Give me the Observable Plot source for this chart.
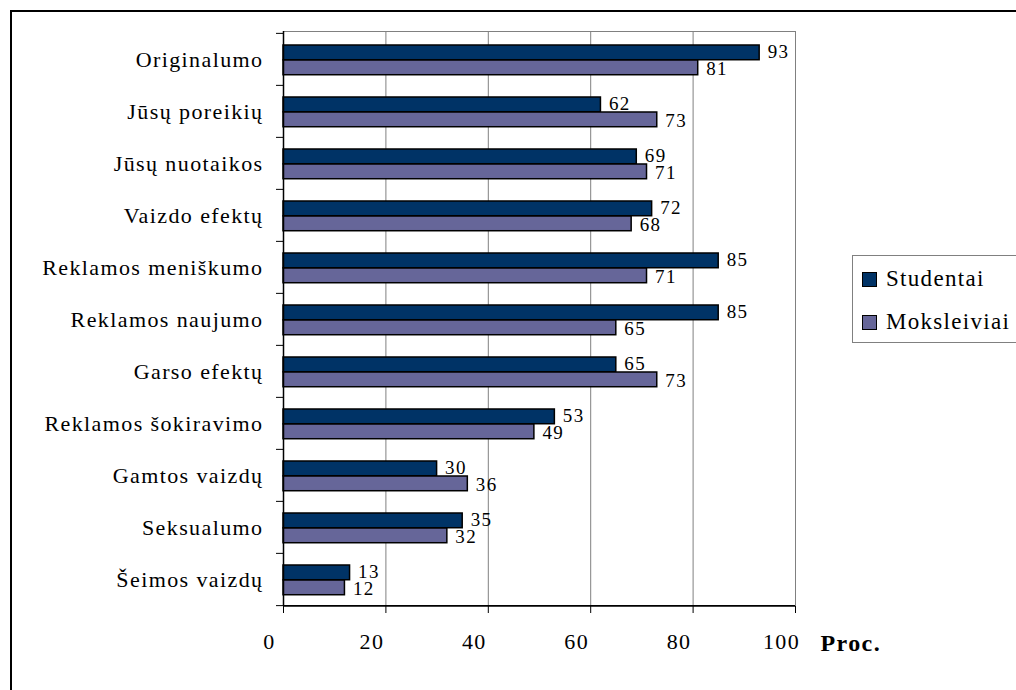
<!DOCTYPE html>
<html>
<head>
<meta charset="utf-8">
<script src="https://cdn.jsdelivr.net/npm/d3@7"></script>
<script src="https://cdn.jsdelivr.net/npm/@observablehq/plot@0.6"></script>
<style>
  html, body { margin: 0; padding: 0; background: #fff; overflow: hidden; }
  #page { position: relative; width: 1016px; height: 690px; overflow: hidden; font-family: "Liberation Serif", "Times New Roman", serif; }
  #border { position: absolute; left: 10px; top: 10px; width: 1040px; height: 720px; border: 2px solid #000; box-sizing: border-box; }
  #chart { position: absolute; left: 0; top: 0; }
  #legend { position: absolute; left: 852px; top: 255px; width: 190px; height: 88px; border: 1px solid #808080; box-sizing: border-box; background: #fff; }
  .item { position: absolute; left: 9px; display: flex; align-items: center; font-size: 23px; letter-spacing: 1.3px; color: #000; }
  .swatch { width: 13px; height: 13px; border: 1.5px solid #000; margin-right: 9px; }
</style>
</head>
<body>
<div id="page">
  <div id="border"></div>
  <div id="chart"></div>
  <div id="legend"></div>
</div>
<script>
// Survey answers: share of respondents (%) naming each advertising attribute
const categories = [
  "Originalumo",
  "Jūsų poreikių",
  "Jūsų nuotaikos",
  "Vaizdo efektų",
  "Reklamos meniškumo",
  "Reklamos naujumo",
  "Garso efektų",
  "Reklamos šokiravimo",
  "Gamtos vaizdų",
  "Seksualumo",
  "Šeimos vaizdų"
];
const studentai   = [93, 62, 69, 72, 85, 85, 65, 53, 30, 35, 13];
const moksleiviai = [81, 73, 71, 68, 71, 65, 73, 49, 36, 32, 12];
const seriesNames = ["Studentai", "Moksleiviai"];
const seriesColors = ["#003366", "#666699"];
const xTicks = [0, 20, 40, 60, 80, 100];
const xLabel = "Proc.";

const W = 1016, H = 690;
const margin = {top: 31, right: 221, bottom: 84, left: 283};
const band = (H - margin.top - margin.bottom) / categories.length;

const rowsS = categories.map((c, i) => ({cat: c, value: studentai[i]}));
const rowsM = categories.map((c, i) => ({cat: c, value: moksleiviai[i]}));

const font = {fontFamily: "'Liberation Serif', 'Times New Roman', serif", fontSize: "22px", letterSpacing: "1.4px", color: "#000", background: "transparent", overflow: "visible"};

const chart = Plot.plot({
  width: W,
  height: H,
  marginTop: margin.top,
  marginRight: margin.right,
  marginBottom: margin.bottom,
  marginLeft: margin.left,
  style: font,
  x: {domain: [0, 100]},
  y: {domain: categories, padding: 0},
  marks: [
    Plot.gridX({ticks: xTicks.slice(1), stroke: "#808080", strokeOpacity: 1, strokeWidth: 1}),
    Plot.frame({stroke: "#808080", strokeWidth: 1}),
    // bars: Studentai above, Moksleiviai below within each category band
    Plot.barX(rowsS, {x: "value", y: "cat", fill: seriesColors[0], stroke: "#000", strokeWidth: 1.5,
      insetTop: 12, insetBottom: band - 27}),
    Plot.barX(rowsM, {x: "value", y: "cat", fill: seriesColors[1], stroke: "#000", strokeWidth: 1.5,
      insetTop: 27, insetBottom: band - 42}),
    // axis lines
    Plot.ruleX([0], {stroke: "#000", strokeWidth: 1.5}),
    Plot.ruleY([categories[categories.length - 1]], {dy: band / 2, stroke: "#000", strokeWidth: 1.5}),
    // value labels
    Plot.text(rowsS, {x: "value", y: "cat", text: d => String(d.value), dx: 8, dy: 18.5 - band / 2,
      textAnchor: "start", fontSize: 19, letterSpacing: "2px", fill: "#000"}),
    Plot.text(rowsM, {x: "value", y: "cat", text: d => String(d.value), dx: 8, dy: 35.5 - band / 2,
      textAnchor: "start", fontSize: 19, letterSpacing: "2px", fill: "#000"}),
    // y axis: ticks on band boundaries, labels centred on bands
    Plot.axisY({tickSize: 7, fill: "none", stroke: "#000", strokeOpacity: 1, dy: -band / 2}),
    Plot.axisY([categories[categories.length - 1]], {tickSize: 7, fill: "none", stroke: "#000", strokeOpacity: 1, dy: band / 2}),
    Plot.axisY({tickSize: 0, tickPadding: 20, fontSize: 22, fill: "#000", label: null}),
    // x axis: tick marks below the axis, labels set a little to the left
    Plot.axisX({ticks: xTicks, tickSize: 7, fill: "none", stroke: "#000", strokeOpacity: 1, label: null}),
    Plot.axisX({ticks: xTicks, tickSize: 0, tickPadding: 27, dx: -14, fontSize: 22, fill: "#000", label: null, tickFormat: d => String(d)}),
    Plot.text([xLabel], {frameAnchor: "bottom-right", dx: 25, dy: 44, textAnchor: "start",
      fontWeight: "bold", fontSize: 24, letterSpacing: "0.5px", fill: "#000"})
  ]
});
document.getElementById("chart").appendChild(chart);

// legend
const legend = document.getElementById("legend");
seriesNames.forEach((name, i) => {
  const item = document.createElement("div");
  item.className = "item";
  item.style.top = (i === 0 ? 10 : 53) + "px";
  const sw = document.createElement("span");
  sw.className = "swatch";
  sw.style.background = seriesColors[i];
  const label = document.createElement("span");
  label.textContent = name;
  item.appendChild(sw);
  item.appendChild(label);
  legend.appendChild(item);
});
</script>
</body>
</html>
